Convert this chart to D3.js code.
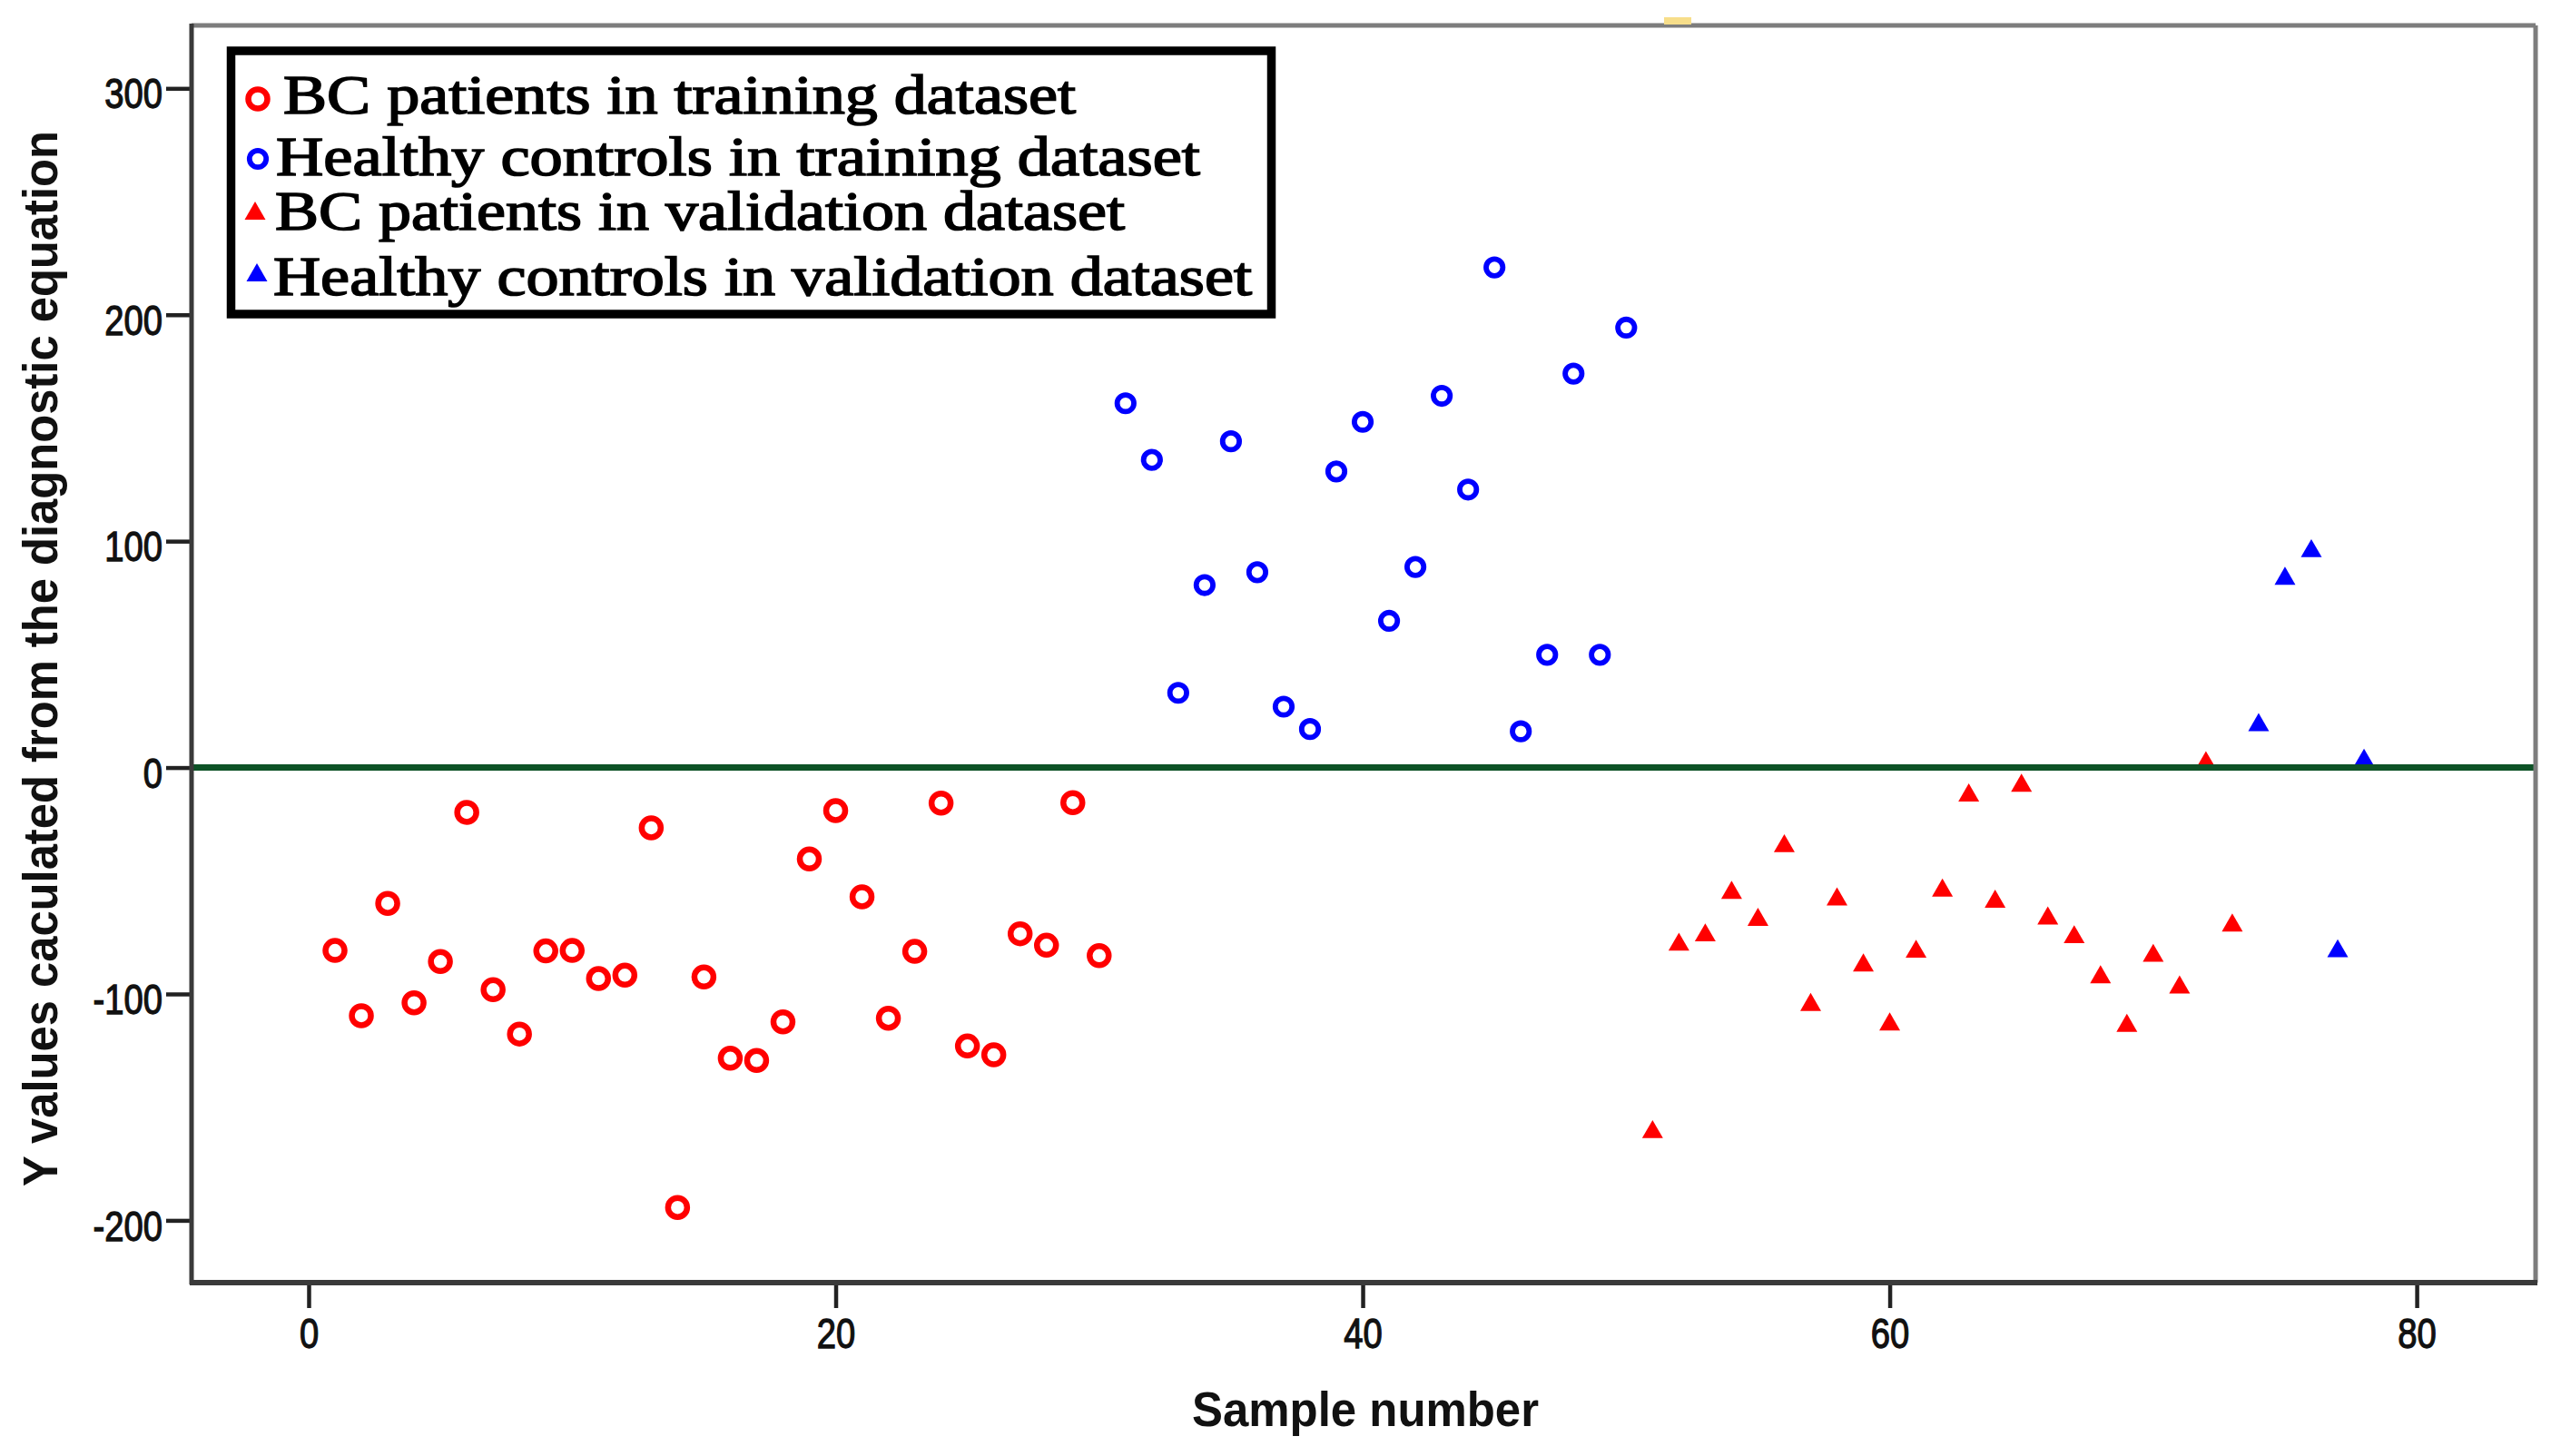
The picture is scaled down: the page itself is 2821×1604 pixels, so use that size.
<!DOCTYPE html>
<html>
<head>
<meta charset="utf-8">
<script src="https://cdn.jsdelivr.net/npm/d3@7"></script>
<style>
  body { margin: 0; background: #fff; }
  svg { display: block; }
</style>
</head>
<body>
<svg id="chart"></svg>
<script>
// sample numbers and Y values
var trainBCSamples = [1,2,3,4,5,6,7,8,9,10,11,12,13,14,15,16,17,18,19,20,21,22,23,24,25,26,27,28,29,30];
var trainBCValues = [-80.8,-109.6,-60.0,-103.9,-85.7,-19.8,-98.1,-117.7,-81.0,-80.8,-93.2,-91.7,-26.6,-194.3,-92.5,
                     -128.4,-129.4,-112.3,-40.4,-19.0,-57.1,-110.7,-81.2,-15.7,-123.0,-126.9,-73.4,-78.5,-15.5,-83.1];

var trainHCSamples = [31,32,33,34,35,36,37,38,39,40,41,42,43,44,45,46,47,48,49,50];
var trainHCValues = [160.9,135.9,33.0,80.6,144.1,86.3,26.9,17.0,130.8,152.7,64.8,88.6,164.2,122.8,220.9,16.0,49.8,174.0,49.8,194.3];

var validBCSamples = [51,52,53,54,55,56,57,58,59,60,61,62,63,64,65,66,67,68,69,70,71,72,73];
var validBCValues = [-159.7,-76.9,-72.8,-54.0,-65.9,-33.4,-103.5,-56.9,-86.1,-112.1,-80.0,-53.0,-11.0,-57.9,-6.7,
                     -65.3,-73.6,-91.3,-112.7,-81.8,-95.8,3.3,-68.4];

var validHCSamples = [74,75,76,77,78];
var validHCValues = [20.1,84.7,96.9,-79.8,4.4];

var legendLabels = ["BC patients in training dataset",
                    "Healthy controls in training dataset",
                    "BC patients in validation dataset",
                    "Healthy controls in validation dataset"];

var xTicks = [0, 20, 40, 60, 80];
var yTicks = [-200, -100, 0, 100, 200, 300];
var cutoff = 0;

var width = 2821;
var height = 1604;
var plotLeft = 211, plotRight = 2793, plotTop = 28, plotBottom = 1413;

var svg = d3.select("#chart")
    .attr("width", width)
    .attr("height", height);

var xScale = d3.scaleLinear()
    .domain([-4.444, 84.51])
    .range([plotLeft, plotRight]);

var yScale = d3.scaleLinear()
    .domain([327.8, -227.5])
    .range([plotTop, plotBottom]);

function zip(xs, ys) {
  return xs.map((d, i) => ({ x: d, y: ys[i] }));
}

var series = [
  { data: zip(trainBCSamples, trainBCValues), shape: "circle", color: "#ff0000", r: 10.5, sw: 6.5 },
  { data: zip(trainHCSamples, trainHCValues), shape: "circle", color: "#0000ff", r: 9.2, sw: 5.8 },
  { data: zip(validBCSamples, validBCValues), shape: "triangle", color: "#ff0000" },
  { data: zip(validHCSamples, validHCValues), shape: "triangle", color: "#0000ff" }
];

// triangle: d3 symbol, shifted so its bounding box is centred on the point
var triSize = 229;
var triPath = d3.symbol(d3.symbolTriangle, triSize)();
var triShift = Math.sqrt(triSize / (Math.sqrt(3) * 3)) / 2;

// axes (plain hyphen for negatives, like the original)
var yAxis = svg.append("g")
    .attr("transform", `translate(${plotLeft},0)`)
    .call(d3.axisLeft(yScale).tickValues(yTicks).tickFormat(d => String(d)).tickSize(28).tickPadding(4));

var xAxis = svg.append("g")
    .attr("transform", `translate(0,${plotBottom})`)
    .call(d3.axisBottom(xScale).tickValues(xTicks).tickFormat(d => String(d)).tickSize(28).tickPadding(11));

[xAxis, yAxis].forEach(function(ax) {
  ax.select(".domain").remove();
  ax.selectAll(".tick line").attr("stroke", "#222").attr("stroke-width", 4.5);
  ax.selectAll(".tick text")
    .attr("fill", "#111")
    .attr("stroke", "#111")
    .attr("stroke-width", 1.3)
    .style("font-family", "'Liberation Sans', Arial, sans-serif")
    .style("font-size", "46px");
});
yAxis.selectAll(".tick text").attr("dy", "0.47em");

// narrow the tick labels like the original
svg.selectAll(".tick text").each(function() {
  var w = this.getComputedTextLength();
  this.setAttribute("textLength", w * 0.83);
  this.setAttribute("lengthAdjust", "spacingAndGlyphs");
});

// points
series.forEach(function(s) {
  var g = svg.append("g");
  if (s.shape === "circle") {
    g.selectAll("circle")
      .data(s.data)
      .enter()
      .append("circle")
        .attr("cx", d => xScale(d.x))
        .attr("cy", d => yScale(d.y))
        .attr("r", s.r)
        .attr("fill", "none")
        .attr("stroke", s.color)
        .attr("stroke-width", s.sw);
  } else {
    g.selectAll("path")
      .data(s.data)
      .enter()
      .append("path")
        .attr("d", triPath)
        .attr("transform", d => `translate(${xScale(d.x)},${yScale(d.y) + triShift})`)
        .attr("fill", s.color);
  }
});

// reference line at Y = 0
svg.append("line")
    .attr("x1", plotLeft)
    .attr("x2", plotRight)
    .attr("y1", yScale(cutoff))
    .attr("y2", yScale(cutoff))
    .attr("stroke", "#0d5226")
    .attr("stroke-width", 7);

// frame
svg.append("line").attr("x1", plotLeft).attr("x2", plotRight).attr("y1", plotTop).attr("y2", plotTop)
    .attr("stroke", "#7d7d7d").attr("stroke-width", 5);
svg.append("line").attr("x1", plotRight).attr("x2", plotRight).attr("y1", plotTop).attr("y2", plotBottom)
    .attr("stroke", "#7d7d7d").attr("stroke-width", 5);
svg.append("line").attr("x1", plotLeft).attr("x2", plotLeft).attr("y1", plotTop - 2).attr("y2", plotBottom + 2)
    .attr("stroke", "#3a3a3a").attr("stroke-width", 5);
svg.append("line").attr("x1", plotLeft - 2).attr("x2", plotRight + 2).attr("y1", plotBottom).attr("y2", plotBottom)
    .attr("stroke", "#3a3a3a").attr("stroke-width", 6);

// small yellow mark above the frame
svg.append("rect")
    .attr("x", 1833).attr("y", 19).attr("width", 30).attr("height", 8)
    .attr("fill", "#f7de8a");

// axis titles
svg.append("text")
    .attr("x", 1313)
    .attr("y", 1571)
    .attr("textLength", 382)
    .attr("lengthAdjust", "spacingAndGlyphs")
    .style("font-family", "'Liberation Sans', Arial, sans-serif")
    .style("font-weight", "bold")
    .style("font-size", "54px")
    .attr("fill", "#111")
    .text("Sample number");

svg.append("text")
    .attr("transform", "translate(63,1307) rotate(-90)")
    .attr("textLength", 1163)
    .attr("lengthAdjust", "spacingAndGlyphs")
    .style("font-family", "'Liberation Sans', Arial, sans-serif")
    .style("font-weight", "bold")
    .style("font-size", "53px")
    .attr("fill", "#111")
    .text("Y values caculated from the diagnostic equation");

// legend
var legendRows = [
  { tx: 312, base: 125, len: 873, mx: 284, my: 109 },
  { tx: 304, base: 193, len: 1018, mx: 284, my: 175 },
  { tx: 303, base: 253, len: 936, mx: 281, my: 232 },
  { tx: 301, base: 325, len: 1078, mx: 283, my: 300 }
];

var legend = svg.append("g");
legend.append("rect")
    .attr("x", 254.5).attr("y", 56)
    .attr("width", 1146).attr("height", 290)
    .attr("fill", "#fff")
    .attr("stroke", "#000")
    .attr("stroke-width", 9.5);

legendLabels.forEach(function(label, i) {
  var row = legendRows[i];
  var s = series[i];
  if (s.shape === "circle") {
    legend.append("circle")
      .attr("cx", row.mx).attr("cy", row.my).attr("r", s.r)
      .attr("fill", "none").attr("stroke", s.color).attr("stroke-width", s.sw);
  } else {
    legend.append("path")
      .attr("d", triPath)
      .attr("transform", `translate(${row.mx},${row.my + triShift})`)
      .attr("fill", s.color);
  }
  legend.append("text")
    .attr("x", row.tx)
    .attr("y", row.base)
    .attr("textLength", row.len)
    .attr("lengthAdjust", "spacingAndGlyphs")
    .style("font-family", "'Liberation Serif', 'Times New Roman', serif")
    .style("font-size", "61px")
    .attr("fill", "#000")
    .attr("stroke", "#000")
    .attr("stroke-width", 1.6)
    .text(label);
});
</script>
</body>
</html>
